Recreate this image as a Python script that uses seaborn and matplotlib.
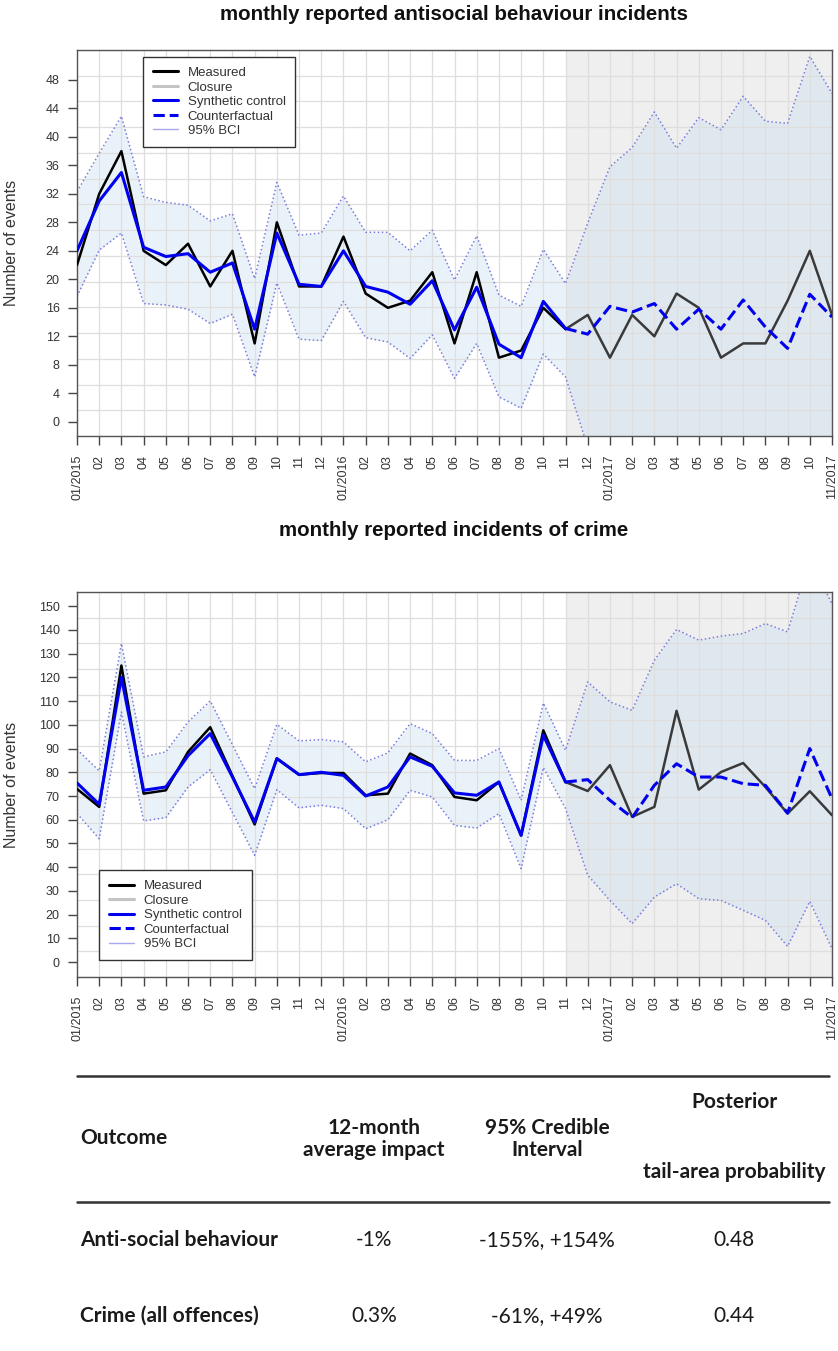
import matplotlib.pyplot as plt
import matplotlib.lines as mlines
import numpy as np
import pandas as pd
import seaborn as sns

# month labels along the x axis (01/2015 .. 11/2017)
month_labels = ["01/2015", "02", "03", "04", "05", "06", "07", "08", "09", "10", "11", "12",
                "01/2016", "02", "03", "04", "05", "06", "07", "08", "09", "10", "11", "12",
                "01/2017", "02", "03", "04", "05", "06", "07", "08", "09", "10", "11/2017"]
closure_month = 22  # 11/2016

# anti-social behaviour
asb_measured = [22, 32, 38, 24, 22, 25, 19, 24, 11, 28, 19, 19, 26, 18, 16, 17, 21, 11, 21, 9, 10, 16,
                13, 15, 9, 15, 12, 18, 16, 9, 11, 11, 17, 24, 15]
asb_synthetic = [24, 31, 35, 24.5, 23.2, 23.6, 21, 22.3, 13, 26.5, 19.3, 19, 24, 19, 18.2, 16.5, 19.8,
                 12.9, 18.9, 10.9, 9, 16.9, 13.1]
asb_counterfactual = [13.1, 12.3, 16.2, 15.4, 16.6, 13, 15.8, 13, 17.1, 13.3, 10.3, 17.9, 14.7]
asb_upper = [32.3, 37.7, 42.9, 31.6, 30.8, 30.4, 28.2, 29.2, 20.1, 33.6, 26.2, 26.5, 31.7, 26.6, 26.6,
             24, 26.9, 19.9, 26.1, 17.8, 16.2, 24.2, 19.4, 27.9, 35.8, 38.5, 43.5, 38.4, 42.7, 41,
             45.7, 42.2, 41.9, 51.3, 46.1]
asb_lower = [17.6, 24.1, 26.5, 16.6, 16.4, 15.8, 13.8, 15.1, 6.3, 19.5, 11.6, 11.4, 16.9, 11.8, 11.2,
             8.9, 12.2, 6.1, 11, 3.5, 1.9, 9.5, 6.3, -3.6, -8, -9, -11, -9, -12, -10, -13, -12, -13,
             -15, -12]

# crime (all offences)
crime_measured = [73, 65.4, 125, 71, 72.4, 88.6, 99, 78.5, 58, 85.8, 79, 79.7, 79.7, 70.3, 71, 87.9,
                  83, 69.6, 68.2, 75.9, 53.4, 97.7, 75.9, 72.1, 83, 61.2, 65.4, 105.9, 72.7, 80.1,
                  83.9, 73.8, 62.6, 72, 61.9]
crime_synthetic = [75.5, 66.5, 120, 72.4, 73.8, 87, 96.3, 78, 59, 85.8, 79, 80, 78.7, 70, 73.8, 86.5,
                   82.5, 71.3, 70.3, 75.9, 53.4, 95.6, 75.9]
crime_counterfactual = [75.9, 76.9, 68.2, 60.9, 74.5, 83.6, 78, 78, 75.2, 74.5, 62.8, 90, 68.9]
crime_upper = [89.6, 80.6, 134.3, 86.5, 88.6, 101.2, 110.1, 91.6, 73.1, 100.2, 93.2, 93.8, 92.8, 84.4,
               88.2, 100.5, 96.3, 85, 85, 90, 68.2, 109.2, 89.3, 118.1, 109.7, 106.1, 127.2, 140.2,
               135.7, 137.4, 138.5, 142.7, 139.2, 170, 151]
crime_lower = [62.6, 52, 105.4, 59.5, 60.9, 73.8, 81.1, 63, 45, 72.7, 65, 66.1, 64.7, 56.2, 60, 72.4,
               69.6, 57.6, 56.5, 62.6, 39.4, 82, 64.7, 36.6, 26, 16.2, 27.4, 33, 26.7, 26, 21.8, 17.6,
               6.6, 25.6, 5.6]

# summary table
table_outcomes = ["Anti-social behaviour", "Crime (all offences)"]
table_impact = ["-1%", "0.3%"]
table_interval = ["-155%, +154%", "-61%, +49%"]
table_tailprob = ["0.48", "0.44"]

sns.set_theme(style="white")
plt.rcParams['font.family'] = ['Liberation Sans', 'DejaVu Sans']

W, H = 838, 1351
fig = plt.figure(figsize=(W / 100, H / 100), dpi=100)


def panel(ax, measured, synthetic, counterfactual, upper, lower, ylim, yticks, leg_loc, leg_anchor):
    n = len(measured)
    df = pd.DataFrame({"month": np.arange(n), "measured": measured,
                       "upper": upper, "lower": lower})
    pre = pd.DataFrame({"month": np.arange(len(synthetic)), "synthetic": synthetic})
    post = pd.DataFrame({"month": np.arange(closure_month, closure_month + len(counterfactual)),
                         "cf": counterfactual})

    ax.axvspan(closure_month, n - 1, color="#efefef", lw=0, zorder=0.3)
    ax.fill_between(df["month"], df["lower"], df["upper"], color="#c8dff0", alpha=0.38,
                    lw=0, zorder=0.6)

    sns.lineplot(data=df, x="month", y="upper", ax=ax, color="#7b7bdc", lw=1.1,
                 linestyle=":", zorder=2)
    sns.lineplot(data=df, x="month", y="lower", ax=ax, color="#7b7bdc", lw=1.1,
                 linestyle=":", zorder=2)
    sns.lineplot(data=df[df["month"] >= closure_month], x="month", y="measured", ax=ax,
                 color="#3a3a3a", lw=1.8, zorder=3)
    sns.lineplot(data=df[df["month"] <= closure_month], x="month", y="measured", ax=ax,
                 color="black", lw=1.8, zorder=3)
    sns.lineplot(data=pre, x="month", y="synthetic", ax=ax, color="#0000ee", lw=2.2, zorder=4)
    sns.lineplot(data=post, x="month", y="cf", ax=ax, color="#0000ee", lw=2.2,
                 linestyle="--", zorder=4)

    ax.set_xlim(0, n - 1)
    ax.set_ylim(*ylim)
    ax.set_xticks(np.arange(n))
    ax.set_xticklabels(month_labels, rotation=90, fontsize=9, color="#333333")
    ax.set_yticks(yticks)
    ax.set_yticklabels([str(t) for t in yticks], fontsize=9, color="#333333")
    ax.set_yticks(np.linspace(ylim[0], ylim[1], 16), minor=True)
    ax.tick_params(axis="both", which="major", direction="out", length=6.5, width=1,
                   color="#444444", bottom=True, left=True)
    ax.tick_params(axis="x", which="major", pad=7)
    ax.tick_params(axis="y", which="major", pad=6)
    ax.tick_params(axis="y", which="minor", length=0)
    ax.set_xlabel("")
    ax.set_ylabel("Number of events", fontsize=11.5, color="#333333")
    ax.yaxis.set_label_coords(-0.077, 0.5)

    ax.grid(False)
    ax.xaxis.grid(True, which="major", color="#dedede", lw=0.9)
    ax.yaxis.grid(True, which="minor", color="#dedede", lw=0.9)
    ax.set_axisbelow("line")
    for s in ax.spines.values():
        s.set_color("#555555")
        s.set_linewidth(1.0)

    handles = [
        mlines.Line2D([], [], color="black", lw=2.2),
        mlines.Line2D([], [], color="#c4c4c4", lw=2.2),
        mlines.Line2D([], [], color="#0000ee", lw=2.2),
        mlines.Line2D([], [], color="#0000ee", lw=2.2, linestyle="--"),
        mlines.Line2D([], [], color="#a8a8ee", lw=1),
    ]
    labels = ["Measured", "Closure", "Synthetic control", "Counterfactual", "95% BCI"]
    leg = ax.legend(handles, labels, loc=leg_loc, bbox_to_anchor=leg_anchor, borderaxespad=0,
                    fontsize=9.5, frameon=True, fancybox=False, framealpha=1, edgecolor="#333333",
                    labelspacing=0.17, handlelength=1.9, handletextpad=0.75, borderpad=0.75,
                    labelcolor="#333333")
    leg.get_frame().set_linewidth(1.0)
    leg.set_zorder(10)


ax1 = fig.add_axes([77 / W, 1 - 436 / H, 755 / W, 386 / H])
panel(ax1, asb_measured, asb_synthetic, asb_counterfactual, asb_upper, asb_lower,
      (-2.0, 52.2), list(range(0, 49, 4)), "upper left", (0.087, 0.982))

ax2 = fig.add_axes([77 / W, 1 - 977 / H, 755 / W, 385 / H])
panel(ax2, crime_measured, crime_synthetic, crime_counterfactual, crime_upper, crime_lower,
      (-6.3, 156), list(range(0, 151, 10)), "lower left", (0.029, 0.044))

fig.text(454 / W, 1 - 15 / H, "monthly reported antisocial behaviour incidents", ha="center",
         va="center", fontsize=14.8, fontweight="bold", color="#111111")
fig.text(454 / W, 1 - 530 / H, "monthly reported incidents of crime", ha="center",
         va="center", fontsize=14.8, fontweight="bold", color="#111111")

# table
tfont = ['Lato', 'DejaVu Sans']
tsize = 15
tcol = "#1a1a1a"
for yy in (1076, 1202):
    fig.add_artist(mlines.Line2D([77 / W, 829 / W], [1 - yy / H, 1 - yy / H], color="#333333",
                                 lw=1.8, transform=fig.transFigure))


def ttext(x, y, s, ha="center", bold=True):
    fig.text(x / W, 1 - y / H, s, ha=ha, va="center", fontsize=tsize, family=tfont,
             fontweight="bold" if bold else "normal", color=tcol, linespacing=1.15)


ttext(80, 1138, "Outcome", ha="left")
ttext(374, 1139, "12-month\naverage impact")
ttext(547, 1139, "95% Credible\nInterval")
ttext(734, 1102, "Posterior")
ttext(734, 1172, "tail-area probability")
for k, yy in enumerate((1240, 1316)):
    ttext(80, yy, table_outcomes[k], ha="left")
    ttext(374, yy, table_impact[k], bold=False)
    ttext(547, yy, table_interval[k], bold=False)
    ttext(734, yy, table_tailprob[k], bold=False)

fig.savefig("out.png", dpi=100)
